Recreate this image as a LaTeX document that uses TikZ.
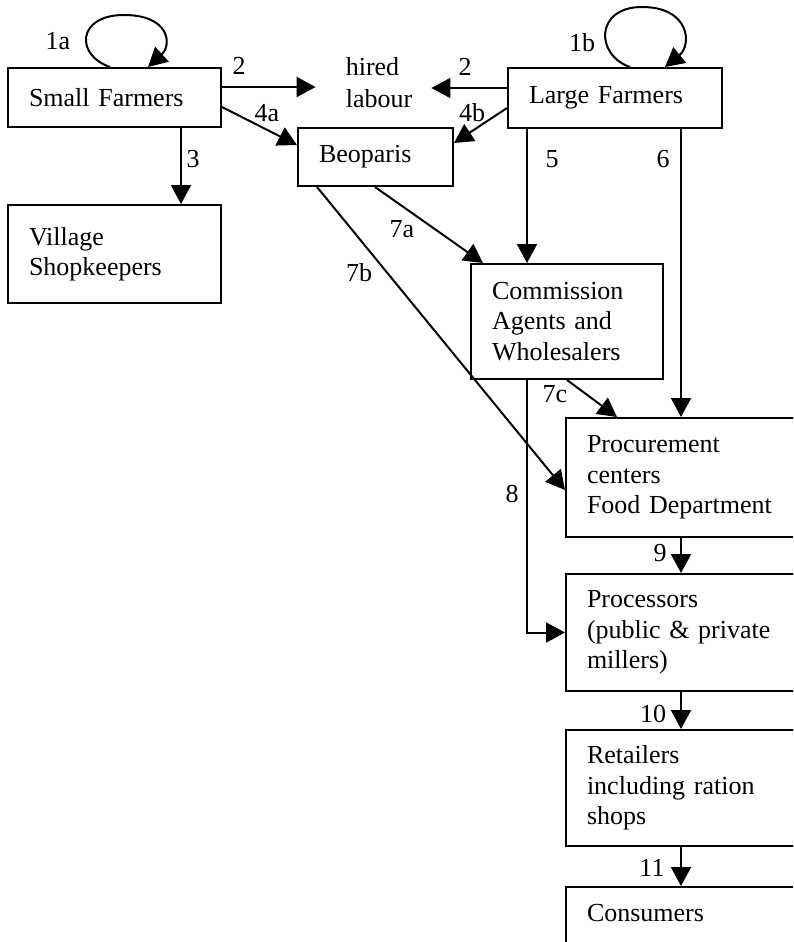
\documentclass[tikz,border=0pt]{standalone}
\usepackage{fontspec}
\setmainfont{Liberation Serif}
\usetikzlibrary{arrows.meta}
\begin{document}
\begin{tikzpicture}[x=1pt,y=-1pt,
  every node/.style={font=\fontsize{26}{30.5}\selectfont},
  box/.style={draw, line width=2pt, anchor=north west, inner xsep=21pt, align=left},
  arr/.style={line width=2pt, -{Triangle[length=19pt,width=20pt]}},
  lbl/.style={inner sep=0pt}]
\useasboundingbox (0,0) rectangle (793,942);
\clip (0,0) rectangle (793,942);
% boxes
\node[box, text width=171pt, minimum width=213pt, minimum height=59pt] (sf) at (7,67) {Small Farmers};
\node[box, text width=171pt, minimum width=213pt, minimum height=98pt] (vs) at (7,204) {Village\\Shopkeepers};
\node[box, text width=172pt, minimum width=214pt, minimum height=60pt] (lf) at (507,67) {Large Farmers};
\node[box, text width=113pt, minimum width=155pt, minimum height=58pt] (beo) at (297,127) {Beoparis};
\node[box, text width=150pt, minimum width=192pt, minimum height=115pt] (ca) at (470,263) {Commission\\Agents and\\Wholesalers};
\node[box, text width=258pt, minimum width=300pt, minimum height=119pt] (pc) at (565,417) {Procurement\\centers\\Food Department};
\node[box, text width=258pt, minimum width=300pt, minimum height=117pt] (pr) at (565,573) {Processors\\(public \& private\\millers)};
\node[box, text width=258pt, minimum width=300pt, minimum height=116pt] (rt) at (565,729) {Retailers\\including ration\\shops};
\node[box, text width=258pt, minimum width=300pt, inner ysep=16pt, text height=18pt, text depth=90pt] (cn) at (565,886) {Consumers};
\node[inner sep=0pt, align=left, font=\fontsize{26}{32}\selectfont] (hl) at (379,83) {hired\\labour};
% self loops
\draw[arr] ([xshift=103pt]sf.north west) .. controls (75,55) and (77,15) .. (124,15)
  .. controls (170,15) and (172,45) .. ([xshift=141pt]sf.north west);
\draw[arr] ([xshift=123pt]lf.north west) .. controls (595,55) and (595,7) .. (642,7)
  .. controls (690,7) and (692,45) .. ([xshift=158pt]lf.north west);
% connectors
\draw[arr, shorten >=30pt] ([yshift=-20pt]sf.north east) -- ([yshift=-20pt]sf.north east -| hl.west);
\draw[arr, shorten >=19pt] ([yshift=-21pt]lf.north west) -- ([yshift=-21pt]lf.north west -| hl.east);
\draw[arr] ([yshift=-40pt]sf.north east) -- ([yshift=-18pt]beo.north west);
\draw[arr] ([yshift=-41pt]lf.north west) -- ([yshift=-16pt]beo.north east);
\draw[arr] ([xshift=174pt]sf.south west) -- ([xshift=174pt]vs.north west);
\draw[arr] ([xshift=20pt]lf.south west) -- ([xshift=20pt]lf.south west |- ca.north);
\draw[arr] ([xshift=174pt]lf.south west) -- ([xshift=174pt]lf.south west |- pc.north);
\draw[arr] ([xshift=78pt]beo.south west) -- ([xshift=13pt]ca.north west);
\draw[arr] ([xshift=20pt]beo.south west) -- ([yshift=-73pt]pc.north west);
\draw[arr] ([xshift=97pt]ca.south west) -- ([xshift=52pt]pc.north west);
\draw[arr] ([xshift=57pt]ca.south west) |- (pr.west);
\draw[arr] ([xshift=116pt]pc.south west) -- ([xshift=116pt]pr.north west);
\draw[arr] ([xshift=116pt]pr.south west) -- ([xshift=116pt]rt.north west);
\draw[arr] ([xshift=116pt]rt.south west) -- ([xshift=116pt]cn.north west);
% labels
\node[lbl] (l1a) at (58,41) {1a};
\node[lbl] (l1b) at (582,43) {1b};
\node[lbl] (l2a) at (239,66) {2};
\node[lbl] (l2b) at (465,67) {2};
\node[lbl] (l4a) at (267,113) {4a};
\node[lbl] (l4b) at (472,113) {4b};
\node[lbl] (l3) at (193,159) {3};
\node[lbl] (l5) at (552,159) {5};
\node[lbl] (l6) at (663,159) {6};
\node[lbl] (l7a) at (402,229) {7a};
\node[lbl] (l7b) at (359,273) {7b};
\node[lbl] (l7c) at (555,394) {7c};
\node[lbl] (l8) at (512,494) {8};
\node[lbl] (l9) at (660,553) {9};
\node[lbl] (l10) at (653,714) {10};
\node[lbl] (l11) at (652,868) {11};
\end{tikzpicture}
\end{document}
